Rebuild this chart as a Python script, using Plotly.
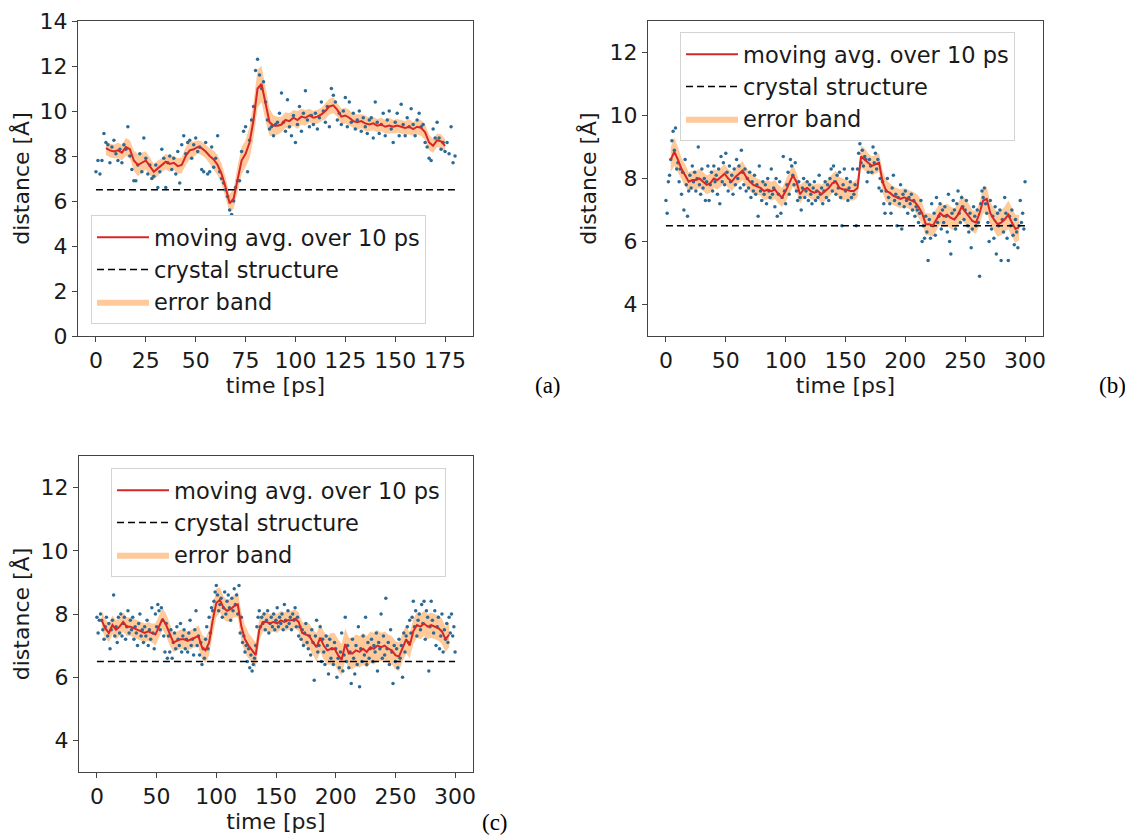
import plotly.graph_objects as go

W, H = 1133, 836          # browser window
OX, OY = 8, 8             # default page body margin the figure sits in
FW, FH = W - OX, H - OY   # figure size that fills the rest of the window

# ---------------- data: panel (a) ----------------
ma_a_t0, ma_a_step = 5, 2
ma_a = [8.35, 8.25, 8.2, 8.25, 8.15, 8.4, 8.3, 7.8, 7.6, 7.7,
        7.8, 7.55, 7.3, 7.45, 7.6, 7.75, 7.65, 7.7, 7.55, 7.6,
        8.0, 8.25, 8.3, 8.4, 8.35, 8.2, 8.0, 7.85, 7.6, 7.2,
        6.6, 5.9, 6.1, 7.0, 7.8, 8.1, 8.6, 9.6, 11.0, 11.2,
        10.3, 9.5, 9.35, 9.35, 9.4, 9.6, 9.55, 9.7, 9.6, 9.75,
        9.7, 9.8, 9.7, 9.75, 9.85, 10.0, 10.2, 10.25, 10.05, 9.75,
        9.8, 9.7, 9.55, 9.5, 9.55, 9.45, 9.4, 9.45, 9.35, 9.4,
        9.3, 9.35, 9.3, 9.35, 9.3, 9.25, 9.3, 9.2, 9.3, 9.25,
        9.05, 8.6, 8.45, 8.7, 8.65, 8.45]
band_a = [0.3, 0.3, 0.3, 0.35, 0.35, 0.4, 0.4, 0.45, 0.5, 0.45,
          0.4, 0.4, 0.35, 0.35, 0.3, 0.35, 0.35, 0.3, 0.35, 0.35,
          0.4, 0.4, 0.35, 0.3, 0.3, 0.3, 0.35, 0.4, 0.45, 0.45,
          0.45, 0.4, 0.45, 0.55, 0.6, 0.6, 0.7, 0.8, 0.85, 0.8,
          0.75, 0.6, 0.45, 0.4, 0.35, 0.35, 0.35, 0.35, 0.4, 0.35,
          0.35, 0.3, 0.3, 0.3, 0.3, 0.35, 0.35, 0.35, 0.3, 0.35,
          0.35, 0.35, 0.3, 0.35, 0.3, 0.35, 0.3, 0.3, 0.3, 0.3,
          0.3, 0.35, 0.3, 0.3, 0.3, 0.3, 0.35, 0.3, 0.35, 0.35,
          0.35, 0.35, 0.3, 0.3, 0.3, 0.3]
pts_a = [7.3, 7.8, 7.2, 7.8, 9.0, 8.6, 8.5, 7.7, 8.4, 8.7,
         8.1, 7.8, 8.3, 7.7, 8.5, 8.3, 9.3, 8.0, 7.4, 6.9,
         6.9, 7.6, 8.1, 7.3, 8.8, 7.9, 7.2, 7.6, 7.0, 7.1,
         7.6, 6.6, 7.3, 8.3, 7.9, 6.6, 7.7, 8.0, 7.4, 7.9,
         7.2, 8.2, 6.8, 8.5, 8.9, 8.1, 8.6, 8.7, 7.9, 8.5,
         8.8, 8.2, 8.4, 7.4, 7.3, 8.6, 7.2, 7.3, 8.4, 7.5,
         7.9, 8.9, 7.3, 7.0, 6.8, 6.5, 6.2, 5.6, 5.4, 6.0,
         6.6, 6.9, 6.9, 8.2, 9.1, 9.3, 7.3, 8.7, 9.6, 10.2,
         11.8, 12.3, 11.6, 11.0, 11.3, 10.4, 9.6, 9.2, 9.3, 8.9,
         9.4, 9.5, 9.9, 10.8, 9.5, 9.1, 10.5, 9.3, 8.9, 9.8,
         8.6, 9.4, 10.2, 9.1, 9.9, 10.9, 9.6, 9.3, 9.8, 9.4,
         9.9, 9.2, 9.7, 10.4, 10.0, 9.5, 10.2, 9.3, 11.0, 10.7,
         10.4, 9.6, 9.9, 9.4, 10.0, 10.6, 9.3, 10.4, 9.5, 9.9,
         9.2, 9.6, 10.0, 9.1, 9.7, 9.3, 9.0, 9.6, 9.7, 8.8,
         10.4, 9.5, 9.0, 9.4, 9.9, 8.9, 9.6, 10.0, 9.2, 8.6,
         9.5, 9.9, 8.9, 10.3, 9.4, 8.9, 9.7, 9.3, 10.1, 9.4,
         8.9, 9.6, 9.9, 9.3, 9.4, 8.6, 8.4, 7.9, 7.8, 9.2,
         8.8, 9.5, 8.8, 8.3, 8.6, 8.2, 8.6, 8.1, 9.3, 7.7,
         8.0]

# ---------------- data: panel (b) ----------------
ma_b_t0, ma_b_step = 4, 3
ma_b = [8.6, 8.85, 8.6, 8.3, 8.1, 7.9, 7.95, 7.95, 8.0, 7.9,
        7.8, 7.85, 8.0, 7.95, 8.05, 8.15, 8.0, 7.9, 8.05, 8.15,
        8.25, 8.05, 7.9, 7.8, 7.75, 7.7, 7.6, 7.65, 7.6, 7.65,
        7.5, 7.4, 7.6, 7.85, 8.1, 7.9, 7.5, 7.65, 7.7, 7.6,
        7.55, 7.6, 7.5, 7.6, 7.7, 7.85, 7.9, 7.7, 7.65, 7.65,
        7.6, 7.6, 7.7, 8.7, 8.6, 8.5, 8.4, 8.45, 8.5, 7.9,
        7.6, 7.55, 7.45, 7.4, 7.35, 7.4, 7.35, 7.3, 7.25, 7.1,
        6.9, 6.55, 6.55, 6.5, 6.7, 6.9, 6.8, 6.85, 6.75, 6.7,
        6.85, 7.1, 6.95, 6.8, 6.65, 6.6, 6.9, 7.3, 7.35, 6.9,
        6.7, 6.55, 6.6, 6.7, 6.85, 6.6, 6.4, 6.45]
band_b = [0.4, 0.45, 0.4, 0.35, 0.35, 0.3, 0.3, 0.3, 0.3, 0.3,
          0.3, 0.3, 0.3, 0.3, 0.3, 0.3, 0.3, 0.3, 0.3, 0.3,
          0.3, 0.3, 0.3, 0.3, 0.25, 0.25, 0.3, 0.3, 0.3, 0.3,
          0.3, 0.3, 0.35, 0.35, 0.35, 0.3, 0.3, 0.25, 0.25, 0.25,
          0.25, 0.25, 0.3, 0.3, 0.3, 0.3, 0.35, 0.35, 0.35, 0.3,
          0.3, 0.3, 0.3, 0.35, 0.35, 0.3, 0.3, 0.3, 0.3, 0.35,
          0.35, 0.3, 0.3, 0.3, 0.3, 0.3, 0.3, 0.3, 0.3, 0.35,
          0.35, 0.35, 0.35, 0.35, 0.35, 0.35, 0.35, 0.35, 0.35, 0.35,
          0.35, 0.4, 0.4, 0.4, 0.35, 0.35, 0.35, 0.4, 0.4, 0.35,
          0.35, 0.4, 0.4, 0.4, 0.45, 0.45, 0.45, 0.4]
pts_b = [7.3, 6.9, 7.9, 8.1, 8.6, 9.2, 9.5, 8.9, 9.6, 8.3,
         8.5, 7.9, 8.3, 7.5, 8.2, 7.0, 8.6, 7.8, 6.8, 7.6,
         8.1, 7.7, 8.4, 7.9, 8.2, 7.6, 8.0, 9.0, 7.8, 7.5,
         8.3, 7.7, 8.0, 7.3, 7.9, 8.4, 7.3, 7.8, 8.2, 7.6,
         8.4, 7.9, 8.1, 7.5, 8.3, 7.2, 8.7, 7.9, 8.5, 7.8,
         8.8, 8.2, 7.6, 8.4, 7.9, 8.1, 7.5, 8.3, 7.8, 8.6,
         8.0, 8.4, 7.7, 8.9, 8.2, 7.8, 8.3, 7.6, 8.0, 7.7,
         8.2, 7.4, 7.9, 7.6, 8.1, 7.5, 7.8, 6.8, 8.4, 7.6,
         7.3, 7.9, 7.5, 7.8, 7.2, 8.0, 7.6, 7.4, 8.3, 7.5,
         7.7, 7.1, 8.0, 6.8, 7.5, 7.9, 6.9, 7.4, 8.7, 7.6,
         7.2, 7.8, 8.2, 7.5, 8.6, 8.4, 8.1, 7.8, 8.5, 7.6,
         7.3, 7.9, 7.4, 7.0, 7.7, 8.0, 7.4, 7.6, 7.9, 7.3,
         7.8, 7.5, 7.2, 7.7, 7.9, 7.3, 7.6, 7.4, 8.1, 7.5,
         7.7, 7.2, 7.6, 7.9, 7.4, 7.8, 7.3, 8.0, 8.3, 7.6,
         8.4, 7.9, 7.5, 8.1, 7.7, 8.2, 7.4, 6.5, 7.8, 8.3,
         7.6, 8.0, 7.3, 7.7, 7.9, 7.4, 8.3, 7.5, 7.8, 6.5,
         8.3, 8.8, 9.1, 8.5, 8.9, 8.4, 8.7, 8.6, 7.9, 8.2,
         8.6, 8.4, 8.2, 9.0, 8.5, 8.8, 8.3, 8.6, 7.7, 8.0,
         7.6, 7.9, 7.2, 6.9, 7.6, 8.0, 7.4, 7.2, 6.9, 7.7,
         8.1, 7.3, 7.5, 6.5, 7.4, 7.2, 7.8, 6.4, 7.5, 7.1,
         7.6, 7.3, 6.9, 7.4, 7.2, 7.5, 7.0, 7.3, 6.8, 7.1,
         7.0, 6.6, 6.9, 7.3, 6.0, 6.5, 6.1, 6.8, 6.3, 5.4,
         6.7, 6.1, 7.2, 6.5, 6.9, 6.2, 7.4, 6.6, 6.8, 7.2,
         6.4, 7.0, 6.6, 7.1, 6.8, 6.3, 7.5, 6.0, 5.6, 6.9,
         7.3, 7.0, 6.4, 7.2, 7.6, 6.9, 6.6, 7.4, 7.1, 6.7,
         7.0, 7.3, 6.5, 6.3, 6.9, 5.8, 6.4, 7.1, 6.8, 6.5,
         7.0, 6.6, 4.9, 7.2, 7.6, 7.4, 7.7, 7.2, 6.9, 6.6,
         6.0, 7.3, 6.4, 6.8, 6.1, 7.1, 5.6, 6.9, 6.5, 7.0,
         5.4, 6.7, 6.3, 7.4, 6.9, 6.1, 5.4, 6.8, 6.5, 7.0,
         6.2, 5.9, 6.7, 6.3, 5.8, 6.5, 7.3, 6.6, 6.9, 6.4,
         7.9]

# ---------------- data: panel (c) ----------------
ma_c_t0, ma_c_step = 4, 3
ma_c = [7.8, 7.55, 7.4, 7.65, 7.5, 7.6, 7.75, 7.6, 7.6, 7.55,
        7.5, 7.45, 7.4, 7.45, 7.4, 7.35, 7.6, 7.85, 7.65, 7.35,
        7.1, 7.15, 7.2, 7.2, 7.15, 7.2, 7.25, 7.3, 6.95, 6.85,
        7.1, 7.8, 8.35, 8.45, 8.2, 8.1, 8.15, 8.25, 8.3, 7.6,
        7.2, 7.0, 6.85, 6.7, 7.5, 7.75, 7.75, 7.7, 7.75, 7.7,
        7.8, 7.75, 7.8, 7.8, 7.85, 7.75, 7.4, 7.35, 7.3, 7.1,
        6.95, 7.25, 7.0, 6.85, 6.9, 6.9, 6.7, 6.55, 7.05, 6.75,
        6.75, 6.85, 6.8, 6.9, 6.8, 6.95, 6.9, 7.0, 6.95, 7.0,
        6.9, 6.85, 6.7, 6.65, 6.95, 7.2, 7.0, 7.45, 7.65, 7.6,
        7.7, 7.6, 7.65, 7.6, 7.55, 7.45, 7.2, 7.35]
band_c = [0.3, 0.3, 0.3, 0.3, 0.3, 0.3, 0.3, 0.3, 0.3, 0.3,
          0.3, 0.3, 0.3, 0.3, 0.3, 0.35, 0.35, 0.35, 0.35, 0.35,
          0.3, 0.3, 0.3, 0.3, 0.3, 0.3, 0.3, 0.35, 0.4, 0.4,
          0.4, 0.45, 0.45, 0.4, 0.35, 0.35, 0.35, 0.35, 0.4, 0.45,
          0.45, 0.4, 0.4, 0.4, 0.35, 0.3, 0.3, 0.3, 0.3, 0.3,
          0.3, 0.3, 0.3, 0.3, 0.3, 0.3, 0.35, 0.35, 0.4, 0.4,
          0.45, 0.45, 0.45, 0.45, 0.5, 0.5, 0.5, 0.5, 0.5, 0.5,
          0.5, 0.5, 0.5, 0.5, 0.5, 0.5, 0.5, 0.5, 0.45, 0.45,
          0.45, 0.45, 0.45, 0.45, 0.45, 0.45, 0.4, 0.4, 0.4, 0.4,
          0.4, 0.4, 0.4, 0.4, 0.4, 0.4, 0.4, 0.4]
pts_c = [7.9, 7.4, 7.8, 8.0, 7.8, 7.5, 7.2, 7.6, 7.9, 7.3,
         7.7, 6.9, 7.5, 7.8, 8.6, 7.3, 7.6, 7.1, 7.9, 7.4,
         8.0, 7.3, 7.7, 7.9, 7.2, 7.6, 8.1, 7.4, 7.8, 7.5,
         7.9, 7.2, 7.6, 7.4, 7.0, 7.7, 8.0, 7.3, 7.5, 7.1,
         7.6, 7.3, 7.8, 7.0, 7.5, 7.2, 8.2, 7.4, 6.9, 8.0,
         7.6, 8.3, 8.1, 7.5, 8.2, 7.8, 7.3, 6.8, 7.7, 6.6,
         7.3, 6.8, 7.5, 6.6, 7.1, 7.4, 6.9, 7.6, 7.2, 7.0,
         7.7, 6.8, 7.3, 7.5, 6.9, 7.2, 6.8, 7.4, 7.8, 7.0,
         7.2, 6.7, 7.5, 8.1, 7.0, 7.3, 6.7, 7.1, 6.4, 6.9,
         6.6, 7.2, 7.6, 6.9, 7.9, 7.4, 8.2, 8.1, 8.4, 8.7,
         8.9, 8.6, 8.1, 8.3, 8.5, 7.9, 8.2, 8.7, 8.0, 8.4,
         8.6, 8.2, 7.8, 8.5, 8.1, 8.8, 8.3, 8.6, 8.0, 8.9,
         7.4, 7.9, 7.1, 7.3, 6.8, 7.0, 6.5, 6.9, 6.3, 6.7,
         6.2, 6.4, 6.6, 7.0, 7.6, 7.9, 8.1, 7.6, 7.9, 7.7,
         8.0, 7.5, 7.8, 8.1, 7.4, 7.7, 7.9, 7.6, 8.0, 7.5,
         7.8, 8.2, 7.6, 7.9, 7.7, 8.0, 7.5, 8.3, 7.8, 7.6,
         8.1, 7.7, 7.9, 7.5, 8.0, 7.8, 8.2, 7.6, 7.9, 7.3,
         7.6, 7.2, 7.5, 7.0, 7.4, 7.7, 7.1, 6.9, 7.3, 6.7,
         7.5, 7.1, 5.9, 7.3, 7.8, 6.8, 7.0, 7.6, 6.5, 7.2,
         6.8, 6.4, 7.3, 7.0, 6.1, 7.2, 6.6, 6.9, 6.4, 7.1,
         6.9, 6.0, 6.6, 6.3, 6.8, 7.4, 6.2, 6.7, 7.9, 6.5,
         7.0, 6.3, 6.8, 5.8, 7.2, 6.6, 6.1, 7.0, 6.4, 7.6,
         5.7, 6.9, 6.5, 7.3, 6.7, 7.9, 6.4, 7.1, 6.6, 6.9,
         7.2, 6.5, 7.0, 6.8, 7.4, 6.2, 7.1, 6.9, 8.0, 6.6,
         7.3, 6.7, 8.5, 6.9, 7.1, 6.4, 7.5, 6.8, 5.8, 7.0,
         6.5, 6.9, 6.3, 7.2, 6.6, 7.0, 6.0, 7.4, 6.8, 7.3,
         7.6, 7.1, 7.8, 7.4, 7.9, 8.4, 7.6, 8.1, 7.3, 7.8,
         8.0, 7.5, 8.3, 7.7, 8.4, 7.2, 8.1, 7.9, 6.2, 7.6,
         8.4, 7.8, 7.4, 8.1, 7.0, 7.6, 7.9, 6.9, 7.3, 8.0,
         6.8, 7.5, 7.2, 7.7, 7.1, 7.9, 7.4, 8.0, 7.3, 7.6,
         6.8]

crystal_value = 6.5
panel_labels = ["(a)", "(b)", "(c)"]
legend_names = ["moving avg. over 10 ps", "crystal structure", "error band"]
x_title = "time [ps]"
y_title = "distance [Å]"

# ---------------- styling ----------------
FONT = "DejaVu Sans"
FS = 22
RED = "#d62728"
BAND = "rgba(255,127,14,0.42)"
DOT = "#2b6a94"

fig = go.Figure()

panels = [
    dict(ma=ma_a, t0=ma_a_t0, step=ma_a_step, band=band_a, pts=pts_a,
         xa="x", ya="y", leg="legend"),
    dict(ma=ma_b, t0=ma_b_t0, step=ma_b_step, band=band_b, pts=pts_b,
         xa="x2", ya="y2", leg="legend2"),
    dict(ma=ma_c, t0=ma_c_t0, step=ma_c_step, band=band_c, pts=pts_c,
         xa="x3", ya="y3", leg="legend3"),
]

for p in panels:
    n = min(len(p["ma"]), len(p["band"]))
    t_ma = [p["t0"] + p["step"] * i for i in range(n)]
    lo = [m - b for m, b in zip(p["ma"][:n], p["band"][:n])]
    hi = [m + b for m, b in zip(p["ma"][:n], p["band"][:n])]
    t_pts = list(range(len(p["pts"])))
    common = dict(xaxis=p["xa"], yaxis=p["ya"], legend=p["leg"])
    # error band
    fig.add_trace(go.Scatter(x=t_ma, y=lo, mode="lines", line=dict(width=0, color=BAND),
                             showlegend=False, hoverinfo="skip", **common))
    fig.add_trace(go.Scatter(x=t_ma, y=hi, mode="lines", line=dict(width=0, color=BAND),
                             fill="tonexty", fillcolor=BAND, name=legend_names[2],
                             legendrank=3, **common))
    # raw points
    fig.add_trace(go.Scatter(x=t_pts, y=p["pts"], mode="markers",
                             marker=dict(size=3.5, color=DOT), showlegend=False, **common))
    # crystal structure
    fig.add_trace(go.Scatter(x=[t_pts[0], t_pts[-1]], y=[crystal_value, crystal_value],
                             mode="lines", line=dict(color="black", width=1.5, dash="7px,4px"),
                             name=legend_names[1], legendrank=2, **common))
    # moving average
    fig.add_trace(go.Scatter(x=t_ma, y=p["ma"][:n], mode="lines",
                             line=dict(color=RED, width=2), name=legend_names[0],
                             legendrank=1, **common))


def px_x(px):
    return (px - OX) / FW


def px_y(py):
    return 1 - (py - OY) / FH


def xd(l, r):
    return [px_x(l), px_x(r)]


def yd(t, b):
    return [px_y(b), px_y(t)]


axis_common = dict(showline=True, mirror=True, linecolor="#444", linewidth=1,
                   ticks="outside", ticklen=5, tickwidth=1, tickcolor="#444",
                   showgrid=False, zeroline=False, automargin=False,
                   tickfont=dict(family=FONT, size=FS, color="#1a1a1a"),
                   title_font=dict(family=FONT, size=FS, color="#1a1a1a"))

legend_common = dict(bgcolor="rgba(255,255,255,0.85)", bordercolor="#d3d3d3", borderwidth=1,
                     font=dict(family=FONT, size=22.5, color="#1a1a1a"), traceorder="normal",
                     xanchor="left", yanchor="top", itemwidth=52, tracegroupgap=0)

fig.update_layout(
    template="none",
    width=FW, height=FH,
    margin=dict(l=0, r=0, t=0, b=0, pad=0, autoexpand=False),
    paper_bgcolor="white", plot_bgcolor="white",
    xaxis=dict(domain=xd(78, 473), range=[-9, 189], tickvals=[0, 25, 50, 75, 100, 125, 150, 175],
               title=dict(text=x_title, standoff=4), anchor="y", **axis_common),
    yaxis=dict(domain=yd(21, 336), range=[0, 14], tickvals=[0, 2, 4, 6, 8, 10, 12, 14],
               title=dict(text=y_title, standoff=6), anchor="x", **axis_common),
    xaxis2=dict(domain=xd(648, 1043), range=[-15, 315], tickvals=[0, 50, 100, 150, 200, 250, 300],
                title=dict(text=x_title, standoff=4), anchor="y2", **axis_common),
    yaxis2=dict(domain=yd(21, 336), range=[3, 13], tickvals=[4, 6, 8, 10, 12],
                title=dict(text=y_title, standoff=6), anchor="x2", **axis_common),
    xaxis3=dict(domain=xd(79, 473), range=[-15, 315], tickvals=[0, 50, 100, 150, 200, 250, 300],
                title=dict(text=x_title, standoff=4), anchor="y3", **axis_common),
    yaxis3=dict(domain=yd(456, 772), range=[3, 13], tickvals=[4, 6, 8, 10, 12],
                title=dict(text=y_title, standoff=6), anchor="x3", **axis_common),
    legend=dict(x=px_x(91), y=px_y(215), **legend_common),
    legend2=dict(x=px_x(680), y=px_y(32), **legend_common),
    legend3=dict(x=px_x(111), y=px_y(468), **legend_common),
)

label_pos = [(548, 385), (1112, 385), (495, 822)]
for txt, (px, py) in zip(panel_labels, label_pos):
    fig.add_annotation(x=px_x(px), y=px_y(py), xref="paper", yref="paper", text=txt,
                       showarrow=False, xanchor="center", yanchor="middle",
                       font=dict(family="Liberation Serif", size=23, color="black"))

fig.write_html("out.html")
